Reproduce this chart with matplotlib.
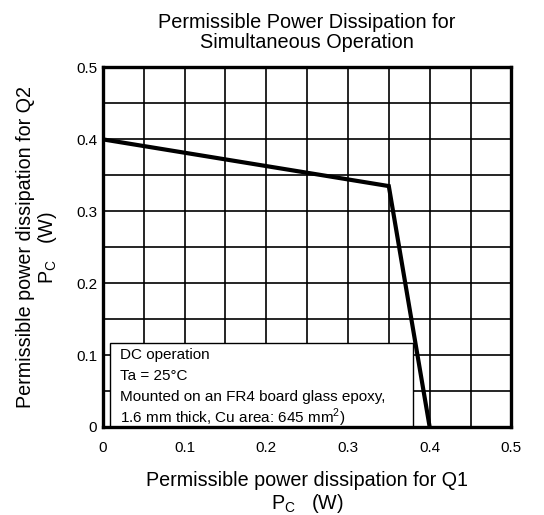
import matplotlib
matplotlib.use("Agg")
import matplotlib.pyplot as plt
from matplotlib.patches import Rectangle
import numpy as np

plt.rcParams['font.family'] = ['Liberation Sans', 'DejaVu Sans']

# data: boundary of permissible region
pc_q1 = [0.0, 0.35, 0.40]
pc_q2 = [0.40, 0.335, 0.0]

major_ticks = [0, 0.1, 0.2, 0.3, 0.4, 0.5]
tick_labels = ['0', '0.1', '0.2', '0.3', '0.4', '0.5']
grid_ticks = np.arange(0, 0.5001, 0.05)

box_lines = ["DC operation",
             "Ta = 25°C",
             "Mounted on an FR4 board glass epoxy,",
             "1.6 mm thick, Cu area: 645 mm$^\\mathregular{2}$)"]

fig = plt.figure(figsize=(5.44, 5.15), dpi=100)
ax = fig.add_axes([0.189, 0.171, 0.751, 0.698])

ax.plot(pc_q1, pc_q2, color='black', linewidth=3, solid_joinstyle='miter', zorder=3)

ax.set_xlim(0, 0.5)
ax.set_ylim(0, 0.5)
ax.set_xticks(grid_ticks, minor=True)
ax.set_yticks(grid_ticks, minor=True)
ax.set_xticks(major_ticks)
ax.set_yticks(major_ticks)
ax.set_xticklabels(tick_labels)
ax.set_yticklabels(tick_labels)
ax.tick_params(which='both', length=0, labelsize=11)
ax.tick_params(axis='x', pad=10)
ax.tick_params(axis='y', pad=4)
ax.grid(True, which='both', color='black', linewidth=1.2)

for s in ax.spines.values():
    s.set_linewidth(2.4)
    s.set_zorder(5)

ax.set_title("Permissible Power Dissipation for\nSimultaneous Operation",
             fontsize=14.3, linespacing=1.1, pad=14)
ax.set_xlabel("Permissible power dissipation for Q1\nP$_\\mathregular{C}$   (W)",
              fontsize=14.2, linespacing=1.1, labelpad=12)
ax.set_ylabel("Permissible power dissipation for Q2\nP$_\\mathregular{C}$   (W)",
              fontsize=14.2, linespacing=1.1, labelpad=12)

# condition box
ax.add_patch(Rectangle((0.017, 0.0), 0.743, 0.233, transform=ax.transAxes,
                       facecolor='white', edgecolor='black', linewidth=1,
                       zorder=4))
for i, line in enumerate(box_lines):
    ax.text(0.042, 0.2 - i * 0.058, line, transform=ax.transAxes,
            fontsize=11, va='center', ha='left', zorder=4.5)

fig.savefig('out.png', dpi=100)
